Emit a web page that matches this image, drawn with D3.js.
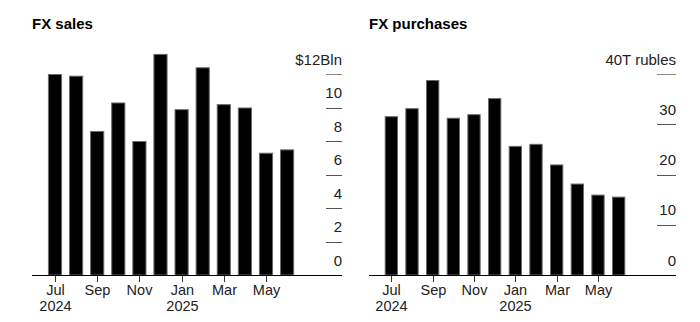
<!DOCTYPE html>
<html><head><meta charset="utf-8">
<script src="https://cdn.jsdelivr.net/npm/d3@7"></script>
<style>
html,body{margin:0;padding:0;background:#fff;}
svg{display:block;font-family:"Liberation Sans",Arial,Helvetica,sans-serif;}
</style></head>
<body><svg id="c" width="700" height="322"></svg>
<script>
const months = ["2024-07","2024-08","2024-09","2024-10","2024-11","2024-12","2025-01","2025-02","2025-03","2025-04","2025-05","2025-06"];
const salesValues = [12.0, 11.9, 8.6, 10.3, 8.0, 13.2, 9.9, 12.4, 10.2, 10.0, 7.3, 7.5];
const purchaseValues = [31.6, 33.2, 38.8, 31.3, 32.0, 35.2, 25.7, 26.1, 22.0, 18.2, 16.0, 15.6];
const tickMonths = ["2024-07","2024-09","2024-11","2025-01","2025-03","2025-05"];
const tickMonthLabels = ["Jul","Sep","Nov","Jan","Mar","May"];
const tickYearLabels = ["2024","","","2025","",""];
const salesTicks = [0,2,4,6,8,10,12];
const salesTickLabels = ["0","2","4","6","8","10","$12Bln"];
const purchaseTicks = [0,10,20,30,40];
const purchaseTickLabels = ["0","10","20","30","40T rubles"];

const svg = d3.select("#c");

function panel(cfg){
  const g = svg.append("g");
  const x = d3.scaleBand().domain(months).range(cfg.xRange).paddingInner(cfg.pad).paddingOuter(cfg.pad/2);
  const y = d3.scaleLinear().domain([0, cfg.max]).range([275, 74]);

  g.append("text").attr("x", cfg.left).attr("y", 29).attr("font-size", 15).attr("font-weight", "bold")
    .attr("fill", "#000").text(cfg.title);

  // y ticks
  cfg.ticks.forEach((t,i)=>{
    if (t !== 0) {
      g.append("line").attr("x1", cfg.tickX0).attr("x2", cfg.right)
        .attr("y1", Math.round(y(t))+0.5).attr("y2", Math.round(y(t))+0.5)
        .attr("stroke", t===cfg.max ? "#888" : "#555").attr("stroke-width", 1);
    }
    g.append("text").attr("x", cfg.right).attr("y", y(t) - 9.5).attr("text-anchor", "end")
      .attr("font-size", 15).attr("fill", "#222").text(cfg.tickLabels[i]);
  });

  // bars
  g.selectAll("rect.bar").data(cfg.values).join("rect").attr("class","bar")
    .attr("x", (d,i)=> x(months[i]) + 0.5)
    .attr("y", d => y(d) + 0.5)
    .attr("width", x.bandwidth() - 1)
    .attr("height", d => 275 - y(d) - 0.5)
    .attr("fill", "#000").attr("stroke", "#6a6a6a").attr("stroke-width", 1);

  // baseline
  g.append("line").attr("x1", cfg.left).attr("x2", cfg.right).attr("y1", 275.5).attr("y2", 275.5)
    .attr("stroke", "#000").attr("stroke-width", 1);

  // x ticks
  tickMonths.forEach((m,i)=>{
    const cx = Math.round(x(m) + x.bandwidth()/2) + 0.5;
    g.append("line").attr("x1", cx).attr("x2", cx).attr("y1", 276).attr("y2", 282)
      .attr("stroke", "#333").attr("stroke-width", 1);
    g.append("text").attr("x", cx).attr("y", 294.5).attr("text-anchor","middle").attr("font-size", 14.5)
      .attr("fill", "#222").text(tickMonthLabels[i]);
    if (tickYearLabels[i]) {
      g.append("text").attr("x", cx).attr("y", 311).attr("text-anchor","middle").attr("font-size", 14.5)
        .attr("fill", "#222").text(tickYearLabels[i]);
    }
  });
}

panel({title:"FX sales", values: salesValues, max: 12, ticks: salesTicks, tickLabels: salesTickLabels,
  left: 32, right: 342, tickX0: 326, xRange: [44.45, 297.65], pad: 0.33});
panel({title:"FX purchases", values: purchaseValues, max: 40, ticks: purchaseTicks, tickLabels: purchaseTickLabels,
  left: 369, right: 676, tickX0: 657, xRange: [381, 629], pad: 0.356});
</script>
</body></html>
